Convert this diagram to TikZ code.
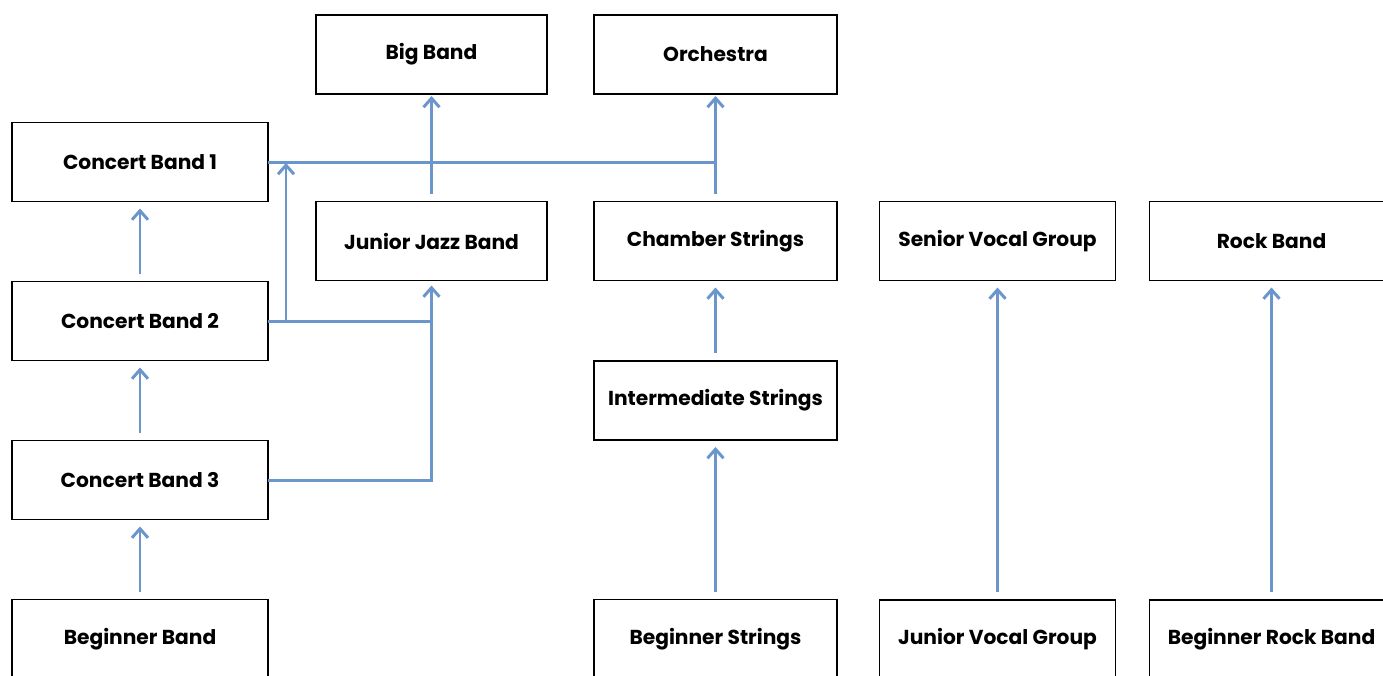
\documentclass[tikz,border=0pt]{standalone}
\usepackage{fontspec}
\setmainfont{Poppins}
\usetikzlibrary{positioning, arrows.meta, calc}
\definecolor{linkblue}{RGB}{107,150,204}

\begin{document}
\begin{tikzpicture}
	% Define styles
	\tikzset{
		block/.style={rectangle, draw, line width=1.1pt, minimum height=1.58cm, inner sep=0pt, outer sep=0pt, font=\bfseries\fontsize{11.5}{13}\selectfont},
		line/.style={draw=linkblue, line width=1.7pt, -{Straight Barb[length=1.8mm, width=3.2mm, line width=1.7pt]}, shorten <=0.16cm, shorten >=0.14cm},
		link/.style={draw=linkblue, line width=1.7pt}
	}
	\useasboundingbox (0,0) rectangle (27.66,-13.5);
	
	% Nodes
	\node[block, minimum width=5.12cm] (cb1) at (2.80,-3.24) {Concert Band 1};
	\node[block, minimum width=5.12cm, below=1.6cm of cb1] (cb2) {Concert Band 2};
	\node[block, minimum width=5.12cm, below=1.6cm of cb2] (cb3) {Concert Band 3};
	\node[block, minimum width=5.12cm, below=1.6cm of cb3] (begband) {Beginner Band};
	
	\node[block, minimum width=4.62cm] (jjb) at (8.63,-4.82) {Junior Jazz Band};
	\node[block, minimum width=4.86cm, right=0.94cm of jjb] (chamber) {Chamber Strings};
	\node[block, minimum width=4.72cm, right=0.85cm of chamber] (senior) {Senior Vocal Group};
	\node[block, minimum width=4.88cm, right=0.68cm of senior] (rock) {Rock Band};
	
	\node[block, minimum width=4.62cm, above=2.15cm of jjb] (bigband) {Big Band};
	\node[block, minimum width=4.86cm, above=2.15cm of chamber] (orch) {Orchestra};
	
	\node[block, minimum width=4.86cm, below=1.61cm of chamber] (inter) {Intermediate Strings};
	\node[block, minimum width=4.86cm, below=3.19cm of inter] (begstr) {Beginner Strings};
	\node[block, minimum width=4.72cm, below=6.39cm of senior] (junvocal) {Junior Vocal Group};
	\node[block, minimum width=4.88cm, below=6.39cm of rock] (begrock) {Beginner Rock Band};
	
	\coordinate (split) at ($(cb2.east)+(0.36,0)$);
	
	% Arrows
	\draw[line] (begband) -- (cb3);
	\draw[line] (cb3) -- (cb2);
	\draw[line] (cb2) -- (cb1);
	
	\draw[line] (begstr) -- (inter);
	\draw[line] (inter) -- (chamber);
	\draw[line, shorten >=0.04cm] (chamber) -- (orch);
	\draw[line, shorten >=0.04cm] (jjb) -- (bigband);
	
	\draw[line] (junvocal) -- (senior);
	\draw[line] (begrock) -- (rock);
	
	\draw[link] (cb1.east) -- (cb1.east -| orch.south);
	\draw[link] (cb2.east) -- (cb2.east -| jjb.south);
	\draw[line, shorten <=0pt, shorten >=0.1cm] (cb3.east) -| (jjb.south);
	\draw[line, shorten <=0pt, shorten >=0.02cm] (split) -- (split |- cb1.east);
	
\end{tikzpicture}
\end{document}
